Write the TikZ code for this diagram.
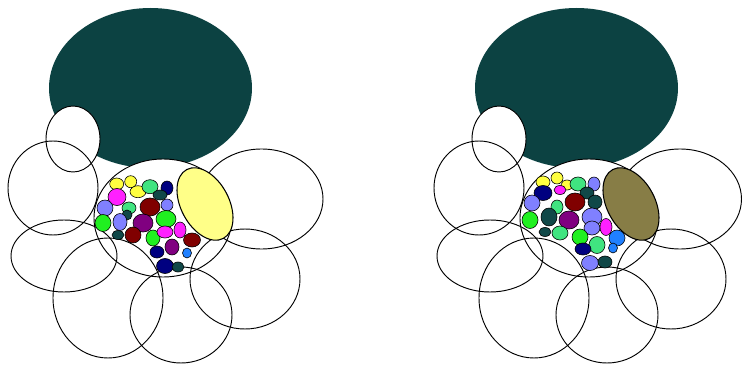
\documentclass[tikz,border=0pt]{standalone}
\usepackage{xcolor}
\usepackage{tikz}
\definecolor{darkteal}{RGB}{12,66,66}
\definecolor{paleyellow}{RGB}{255,255,136}
\definecolor{olivelens}{RGB}{135,125,70}
\definecolor{cy}{RGB}{255,255,64}
\definecolor{cs}{RGB}{64,228,128}
\definecolor{cg}{RGB}{32,240,32}
\definecolor{cm}{RGB}{255,32,255}
\definecolor{cp}{RGB}{128,128,255}
\definecolor{cr}{RGB}{128,0,0}
\definecolor{cu}{RGB}{128,0,128}
\definecolor{cn}{RGB}{0,0,128}
\definecolor{ct}{RGB}{16,72,72}
\definecolor{cb}{RGB}{32,128,255}
\tikzset{
  ring/.style={draw=black,line width=0.8pt},
  hole/.style={ring,fill=white},
  lens/.style={ring,line width=0.9pt},
  blob/.style={draw=black,line width=0.5pt},
}

\begin{document}
\begin{tikzpicture}[x=0.03cm,y=-0.03cm]
\useasboundingbox (0,0) rectangle (742,366);
% both panels: big disc, rings and the lens
\foreach \dx/\rcx/\lenscol in {0/261.5/paleyellow, 426/254/olivelens}{
  \begin{scope}[shift={(\dx,0)}]
    \fill[darkteal] (150.5,88) ellipse [x radius=101.5,y radius=80];
    \draw[hole] (73,139) ellipse [x radius=27,y radius=33];
    \draw[hole] (163,218) ellipse [x radius=69,y radius=59];
    \draw[ring] (53,188) ellipse [x radius=45,y radius=47];
    \draw[ring] (\rcx,199) ellipse [x radius=61.5,y radius=50];
    \draw[ring] (64,256) ellipse [x radius=53,y radius=36];
    \draw[ring] (108,298) ellipse [x radius=55,y radius=60];
    \draw[ring] (181,315) ellipse [x radius=51,y radius=48];
    \draw[ring] (245,279) ellipse [x radius=55,y radius=50];
    \draw[lens,fill=\lenscol,shift={(205,204)},rotate=-62]
      (0,0) ellipse [x radius=39,y radius=24];
  \end{scope}
}
% left cluster
\foreach \x/\y/\a/\b/\c in {116.7/184/6/5/cy, 130.7/181.7/5/5/cy,
    138/191.7/7/5/cy, 150/186.7/7/6/cs, 167/188/5/6/cn, 160/195/6/4/ct,
    117/197/8/7.5/cm, 105/208/7/7/cp, 103/223/7/7.5/cg, 129/208/6/5/cs,
    127/215/4/4/ct, 120/222/6/7.5/cp, 150/207/9/8/cr, 167/205/5/5/cp,
    143/223/9/8/cu, 166/219/9/7.5/cg, 118/235/5/3.5/ct, 133/235/7/7/cr,
    153/238/6/7/cg, 165/232/7/5/cm, 180/230/5/7/cm, 192/240/7.5/6/cr,
    172/247/6/7/cu, 157/252/6/5/cn, 187/253/3.5/4/cb, 165/266/7.5/6.5/cn,
    178/267/5/4/ct}{
  \filldraw[blob,fill=\c] (\x,\y) ellipse [x radius=\a+1,y radius=\b+1];
}
% right cluster
\foreach \x/\y/\a/\b/\c in {543/182/6/5/cy, 557/178/5/5/cy, 567/185/5/4/cy,
    578/184/7/6/cs, 594/184/5/6/cp, 560/190/5/3.5/cm, 543/193/8/6.5/cn,
    587/193/6/5/ct, 532/203/7/7/cp, 575/202/9/8/cr, 595/202/6/6/ct,
    557/207/5/6/cs, 549/217/7/8/ct, 530/220/7/7.5/cg, 569/220/9/8/cu,
    592/217/9/8/cp, 592/228/7/6/cp, 606/227/5/7.5/cm, 560/233/7/6/cs,
    545/232/5/3.5/ct, 580/237/7/7/cg, 597/245/7/7.5/cs, 617/238/7/7/cb,
    613/248/3.5/4/cb, 583/249/7/5/cn, 590/263/7.5/6.5/cp,
    605/262/6/5/ct}{
  \filldraw[blob,fill=\c] (\x,\y) ellipse [x radius=\a+1,y radius=\b+1];
}
\end{tikzpicture}
\end{document}
